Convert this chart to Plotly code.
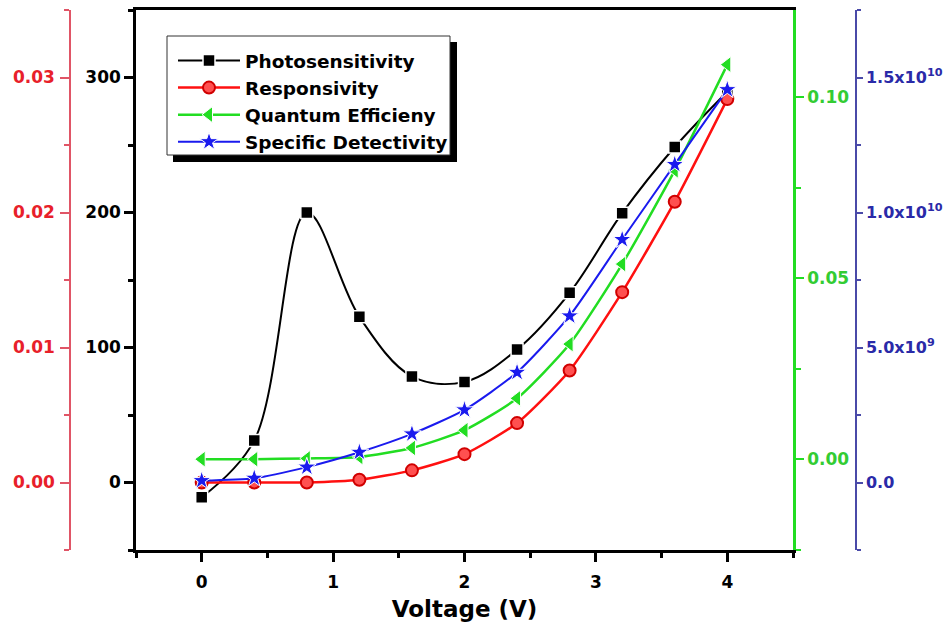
import plotly.graph_objects as go

voltage = [0, 0.4, 0.8, 1.2, 1.6, 2.0, 2.4, 2.8, 3.2, 3.6, 4.0]
photosensitivity = [-10.9, 31.2, 200.0, 122.7, 78.6, 74.5, 98.5, 140.5, 199.5, 248.5, 289.5]
responsivity = [0.0, 0.0, 0.0, 0.0002, 0.0009, 0.0021, 0.0044, 0.0083, 0.0141, 0.0208, 0.0284]
quantum_eff = [0.0, 0.0, 0.0002, 0.0006, 0.0031, 0.008, 0.0168, 0.0318, 0.0539, 0.0798, 0.109]
detectivity = [0.07e9, 1.6e8, 5.7e8, 1.12e9, 1.8e9, 2.69e9, 4.08e9, 6.17e9, 9.0e9, 1.178e10, 1.455e10]

x_ticks = [0, 1, 2, 3, 4]
black_ticks = [0, 100, 200, 300]
red_ticks = [0.0, 0.01, 0.02, 0.03]
red_labels = ["0.00", "0.01", "0.02", "0.03"]
green_ticks = [0.0, 0.05, 0.10]
green_labels = ["0.00", "0.05", "0.10"]
blue_ticks = [0.0, 5e9, 1e10, 1.5e10]
blue_labels = ["0.0", "5.0x10<sup>9</sup>", "1.0x10<sup>10</sup>", "1.5x10<sup>10</sup>"]

FONT = "DejaVu Sans, Verdana, sans-serif"
RED = "#e8202a"
RED_LINE = "#e05566"
GREEN = "#22dd22"
GREEN_TXT = "#33cc33"
BLUE = "#2a2aa8"
BLUE_LINE = "#4a4aa8"

fig = go.Figure()
fig.add_trace(go.Scatter(
    x=voltage, y=photosensitivity, name="Photosensitivity", yaxis="y",
    mode="lines+markers", line=dict(color="black", width=2, shape="spline", smoothing=1.0),
    marker=dict(symbol="square", size=12, color="black", line=dict(color="white", width=1.5))))
fig.add_trace(go.Scatter(
    x=voltage, y=responsivity, name="Responsivity", yaxis="y2",
    mode="lines+markers", line=dict(color="#ff1010", width=2.5, shape="spline", smoothing=0.6),
    marker=dict(symbol="circle", size=12, color="#ff5050", line=dict(color="#d00000", width=2))))
fig.add_trace(go.Scatter(
    x=voltage, y=quantum_eff, name="Quantum Efficieny", yaxis="y3",
    mode="lines+markers", line=dict(color=GREEN, width=2.5, shape="spline", smoothing=0.6),
    marker=dict(symbol="triangle-left", size=14, color=GREEN, line=dict(color="white", width=1))))
fig.add_trace(go.Scatter(
    x=voltage, y=detectivity, name="Specific Detectivity", yaxis="y4",
    mode="lines+markers", line=dict(color="#1a1aee", width=2, shape="spline", smoothing=0.6),
    marker=dict(symbol="star", size=14, color="#1a1aee", line=dict(color="white", width=1))))

TS = 17

def px_x(p):
    return p / 948.0

def px_y(p):
    return (550.0 - p) / 540.0

fig.update_layout(
    width=948, height=635,
    margin=dict(l=0, r=0, t=10, b=85),
    paper_bgcolor="white", plot_bgcolor="white",
    font=dict(family=FONT, color="black"),
    showlegend=True,
    legend=dict(x=px_x(173), y=px_y(42), xanchor="left", yanchor="top",
                bgcolor="rgba(0,0,0,0)", borderwidth=0,
                font=dict(family=FONT, size=18.5, weight="bold", color="black"),
                itemwidth=62, tracegroupgap=0),
    shapes=[
        dict(type="rect", xref="paper", yref="paper", layer="above",
             x0=px_x(173), x1=px_x(457), y0=px_y(162), y1=px_y(42),
             fillcolor="black", line=dict(width=0)),
        dict(type="rect", xref="paper", yref="paper", layer="above",
             x0=px_x(167), x1=px_x(450), y0=px_y(155), y1=px_y(36),
             fillcolor="white", line=dict(color="#333333", width=1)),
    ],
    xaxis=dict(domain=[px_x(136), px_x(793)], range=[-0.5, 4.5], tickvals=x_ticks,
               ticks="outside", ticklen=9, tickwidth=2.5, tickcolor="black",
               ticklabelstandoff=6,
               minor=dict(dtick=0.5, tick0=0, ticks="outside", ticklen=5, tickwidth=2.5, tickcolor="black"),
               showline=True, linecolor="black", linewidth=2.5, mirror=True,
               showgrid=False, zeroline=False,
               tickfont=dict(family=FONT, size=TS, weight="bold", color="black"),
               title=dict(text="Voltage (V)", font=dict(family=FONT, size=23, weight="bold"), standoff=10)),
    yaxis=dict(range=[-50, 350], tickvals=black_ticks, anchor="x", side="left",
               ticks="outside", ticklen=9, tickwidth=2.5, tickcolor="black",
               minor=dict(dtick=50, tick0=0, ticks="outside", ticklen=5, tickwidth=2.5, tickcolor="black"),
               showline=True, linecolor="black", linewidth=2.5,
               showgrid=False, zeroline=False,
               tickfont=dict(family=FONT, size=TS, weight="bold", color="black")),
    yaxis2=dict(range=[-0.005, 0.035], tickvals=red_ticks, ticktext=red_labels,
                overlaying="y", side="left", anchor="free", position=px_x(70),
                ticks="outside", ticklen=9, tickwidth=1.5, tickcolor=RED_LINE,
                ticklabelstandoff=2,
                minor=dict(dtick=0.005, tick0=0, ticks="outside", ticklen=5, tickwidth=1.5, tickcolor=RED_LINE),
                showline=True, linecolor=RED_LINE, linewidth=1.5,
                showgrid=False, zeroline=False,
                tickfont=dict(family=FONT, size=TS, weight="bold", color=RED)),
    yaxis3=dict(range=[-0.0251, 0.1241], tickvals=green_ticks, ticktext=green_labels,
                overlaying="y", side="right", anchor="x",
                ticks="outside", ticklen=8, tickwidth=1.5, tickcolor=GREEN,
                minor=dict(dtick=0.025, tick0=0, ticks="outside", ticklen=5, tickwidth=1.5, tickcolor=GREEN),
                showline=True, linecolor=GREEN, linewidth=2.5,
                showgrid=False, zeroline=False,
                tickfont=dict(family=FONT, size=TS, weight="bold", color=GREEN_TXT)),
    yaxis4=dict(range=[-2.5e9, 1.75e10], tickvals=blue_ticks, ticktext=blue_labels,
                overlaying="y", side="right", anchor="free", position=px_x(856),
                ticks="outside", ticklen=6, tickwidth=1.5, tickcolor=BLUE_LINE,
                minor=dict(dtick=2.5e9, tick0=0, ticks="outside", ticklen=4, tickwidth=1.5, tickcolor=BLUE_LINE),
                showline=True, linecolor=BLUE_LINE, linewidth=1.5,
                showgrid=False, zeroline=False,
                tickfont=dict(family=FONT, size=TS - 1, weight="bold", color=BLUE)),
)

fig.write_html("out.html")
